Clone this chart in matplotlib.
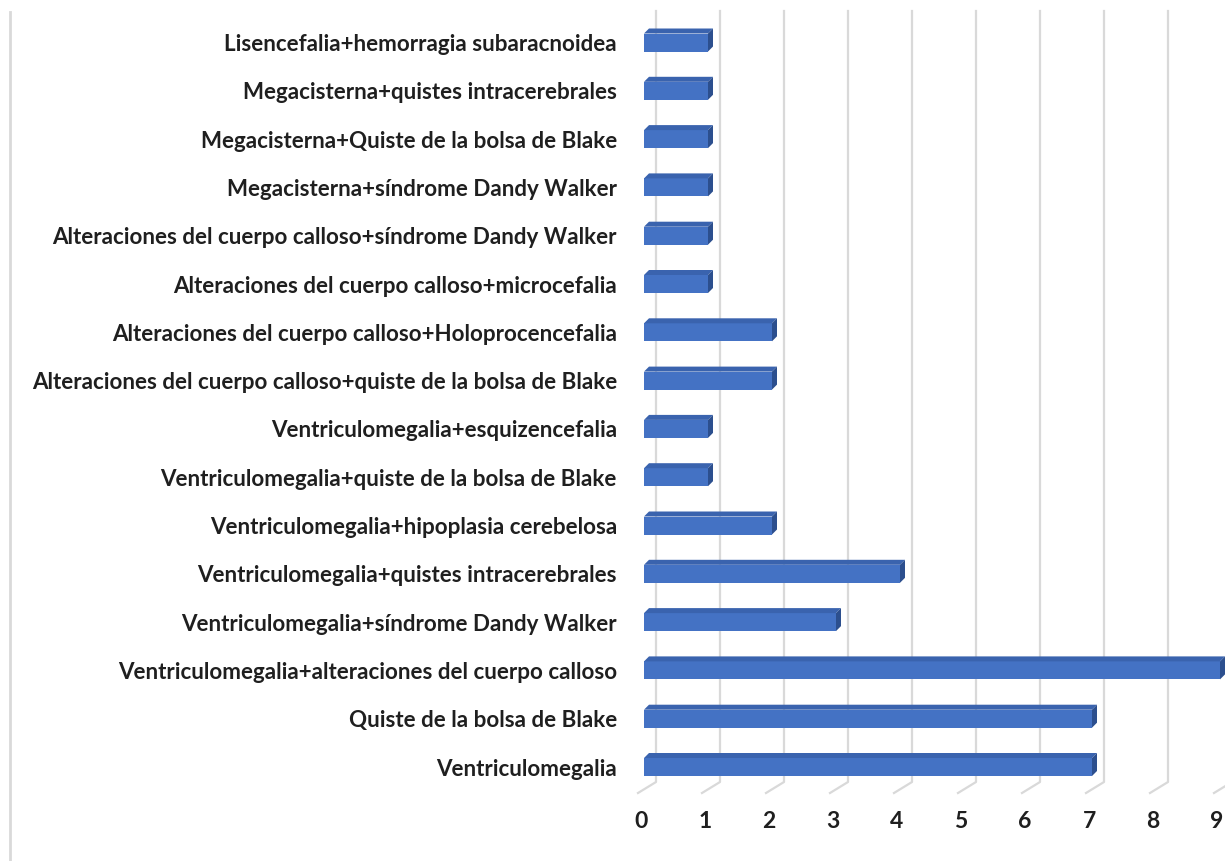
import matplotlib
matplotlib.use('Agg')
import matplotlib.pyplot as plt
from matplotlib.patches import Polygon
from matplotlib.lines import Line2D

# Data (bottom to top)
categories = [
    "Ventriculomegalia",
    "Quiste de la bolsa de Blake",
    "Ventriculomegalia+alteraciones del cuerpo calloso",
    "Ventriculomegalia+síndrome Dandy Walker",
    "Ventriculomegalia+quistes intracerebrales",
    "Ventriculomegalia+hipoplasia cerebelosa",
    "Ventriculomegalia+quiste de la bolsa de Blake",
    "Ventriculomegalia+esquizencefalia",
    "Alteraciones del cuerpo calloso+quiste de la bolsa de Blake",
    "Alteraciones del cuerpo calloso+Holoprocencefalia",
    "Alteraciones del cuerpo calloso+microcefalia",
    "Alteraciones del cuerpo calloso+síndrome Dandy Walker",
    "Megacisterna+síndrome Dandy Walker",
    "Megacisterna+Quiste de la bolsa de Blake",
    "Megacisterna+quistes intracerebrales",
    "Lisencefalia+hemorragia subaracnoidea",
]
values = [7, 7, 9, 3, 4, 2, 1, 1, 2, 2, 1, 1, 1, 1, 1, 1]
ticks = list(range(10))

W, H = 1225, 861
PX = 64.0      # pixels per value unit
ROW = 48.3     # pixels per category
X0 = 644       # pixel of value 0 (bar front)
Y0 = 767       # pixel (from top) of bottom category
XMIN, XMAX = -0.3, 9.6
YMIN, YMAX = -1.2, 15.8

FRONT = '#4472C4'
TOP = '#3A63AE'
SIDE = '#2C4F8E'
GRID = '#D9D9D9'
TXT = '#1F1F1F'
FONT = ['Lato', 'DejaVu Sans']

fig = plt.figure(figsize=(W / 100, H / 100), dpi=100)
ax = fig.add_axes([(X0 + XMIN * PX) / W, 1 - (Y0 - YMIN * ROW) / H,
                   (XMAX - XMIN) * PX / W, (YMAX - YMIN) * ROW / H])
ax.set_xlim(XMIN, XMAX)
ax.set_ylim(YMIN, YMAX)
ax.set_axis_off()

def dx(p):
    return p / PX

def dy(p):
    return p / ROW

# gridlines: back vertical part + slanted floor part
y_top = dy(Y0 - 11)
y_back = dy(Y0 - 782)
y_front = dy(Y0 - 793)
for k in ticks:
    xb = k + dx(12)
    xf = k + dx(-6)
    ax.add_line(Line2D([xb, xb, xf], [y_top, y_back, y_front], color=GRID,
                       lw=1.6, zorder=0, clip_on=False))
    ax.text(k + dx(-3), dy(Y0 - 821), str(k), ha='center', va='center',
            fontsize=16.5, fontweight='bold', color=TXT, family=FONT)

# bars
h = 18 / ROW
ddx, ddy = dx(5), dy(5)
labels = []
for i, (c, v) in enumerate(zip(categories, values)):
    ax.barh(i, v, height=h, left=0, color=FRONT, zorder=2)
    top = [(0, i + h / 2), (v, i + h / 2), (v + ddx, i + h / 2 + ddy),
           (ddx, i + h / 2 + ddy)]
    ax.add_patch(Polygon(top, closed=True, facecolor=TOP, edgecolor='none', zorder=2))
    side = [(v, i - h / 2), (v, i + h / 2), (v + ddx, i + h / 2 + ddy),
            (v + ddx, i - h / 2 + ddy)]
    ax.add_patch(Polygon(side, closed=True, facecolor=SIDE, edgecolor='none', zorder=2))
    t = ax.text(dx(617 - X0), i, c, ha='right', va='center_baseline', fontsize=16,
                fontweight='bold', color=TXT, family=FONT)
    labels.append(t)

# fit label size so the longest label spans ~586 px as in the reference
fig.canvas.draw()
r = fig.canvas.get_renderer()
wmax = max(t.get_window_extent(r).width for t in labels)
fs = 16 * 586 / wmax
for t in labels:
    t.set_fontsize(fs)

# chart area left border
fig.add_artist(Line2D([10 / W, 10 / W], [0, 1 - 12 / H], color=GRID, lw=2))

fig.savefig('out.png', dpi=100)
